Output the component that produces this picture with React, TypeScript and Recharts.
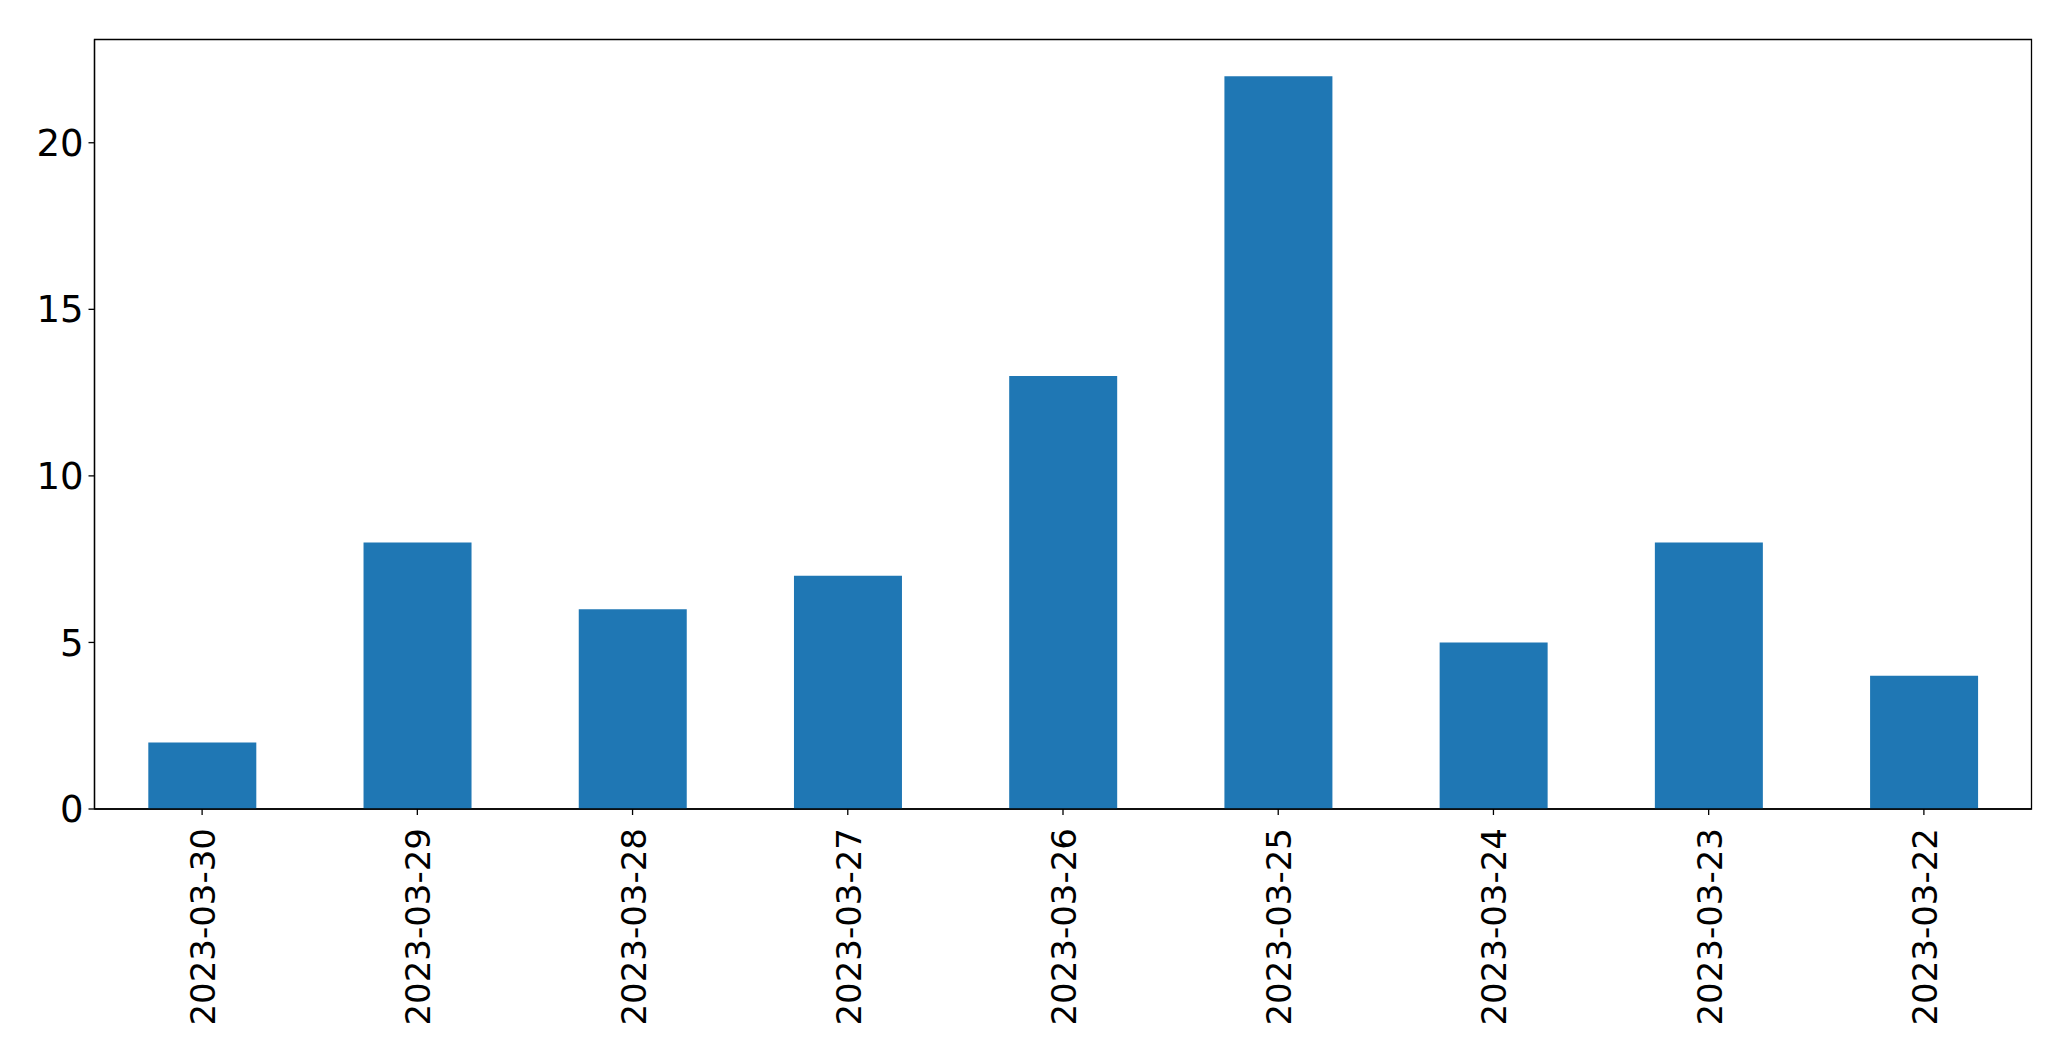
import React from "react";
import { BarChart, Bar, XAxis, YAxis, ReferenceArea } from "recharts";

const categories = [
  "2023-03-30",
  "2023-03-29",
  "2023-03-28",
  "2023-03-27",
  "2023-03-26",
  "2023-03-25",
  "2023-03-24",
  "2023-03-23",
  "2023-03-22",
];
const counts = [2, 8, 6, 7, 13, 22, 5, 8, 4];
const yTicks = [0, 5, 10, 15, 20];
const yMax = 23.1;

const data = categories.map((c, i) => ({ date: c, count: counts[i] }));

const FONT = "'DejaVu Sans', sans-serif";

const RotatedTick = (props: any) => {
  const { x, y, payload } = props;
  return (
    <g transform={`translate(${x + 13},${y + 11})`}>
      <text
        x={0}
        y={0}
        transform="rotate(-90)"
        textAnchor="end"
        fontFamily={FONT}
        fontSize={34}
        fill="#000"
      >
        {payload.value}
      </text>
    </g>
  );
};

export default function App() {
  return (
    <div style={{ position: "absolute", left: 0, top: 0, width: 2071, height: 1061, background: "#fff" }}>
      <BarChart
        width={2071}
        height={1061}
        data={data}
        margin={{ top: 39.5, right: 39.5, left: 0, bottom: 0 }}
        barCategoryGap="25%"
      >
        <XAxis
          dataKey="date"
          height={252}
          interval={0}
          tick={<RotatedTick />}
          tickSize={6}
          tickLine={{ stroke: "#000", strokeWidth: 1.3 }}
          axisLine={{ stroke: "#000", strokeWidth: 1.3 }}
        />
        <YAxis
          width={94.5}
          domain={[0, yMax]}
          ticks={yTicks}
          tickSize={6}
          tickMargin={5}
          tick={{ fontFamily: FONT, fontSize: 37, fill: "#000" }}
          tickLine={{ stroke: "#000", strokeWidth: 1.3 }}
          axisLine={{ stroke: "#000", strokeWidth: 1.3 }}
        />
        <Bar dataKey="count" fill="#1f77b4" isAnimationActive={false} />
        <ReferenceArea
          y1={0}
          y2={yMax}
          fill="none"
          fillOpacity={0}
          stroke="#000"
          strokeWidth={1.3}
          strokeOpacity={1}
        />
      </BarChart>
    </div>
  );
}
